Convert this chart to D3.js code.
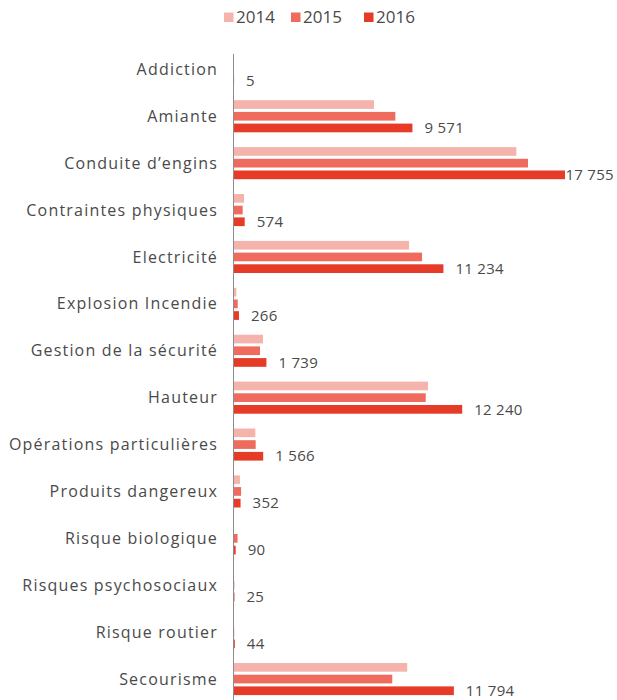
<!DOCTYPE html>
<html>
<head>
<meta charset="utf-8">
<script src="https://cdn.jsdelivr.net/npm/d3@7"></script>
<style>
  body { margin: 0; background: #fff; }
  text { font-family: "Open Sans", sans-serif; fill: #4a4a4a; }
</style>
</head>
<body>
<div id="chart"></div>
<script>
// categories, top to bottom
const categories = ["Addiction", "Amiante", "Conduite d\u2019engins", "Contraintes physiques ",
    "Electricit\u00e9", "Explosion Incendie", "Gestion de la s\u00e9curit\u00e9", "Hauteur",
    "Op\u00e9rations particuli\u00e8res", "Produits dangereux ", "Risque biologique ",
    "Risques psychosociaux", "Risque routier", "Secourisme"];
const years = ["2014", "2015", "2016"];

// values (2016 values are labelled)
const values2014 = [0, 7510, 15145, 536, 9390, 125, 1556, 10408, 1144, 320, 0, 0, 0, 9290];
const values2015 = [0, 8655, 15770, 465, 10086, 200, 1395, 10284, 1162, 380, 190, 15, 10, 8490];
const values2016 = [5, 9571, 17755, 574, 11234, 266, 1739, 12240, 1566, 352, 90, 25, 44, 11794];

const colors = ["#f5b4ab", "#ee6b5d", "#e63b27"];

let width = 617, height = 700;

let svg = d3.select("#chart").append("svg")
    .attr("width", width)
    .attr("height", height);

let data = categories.map((c, i) => ({
    cat: c,
    vals: [values2014[i], values2015[i], values2016[i]]
}));

let axisX = 234;

let x = d3.scaleLinear()
    .domain([0, d3.max(values2016)])
    .range([axisX, 565]);

let y = d3.scaleBand()
    .domain(categories)
    .range([53.3, 53.3 + 14 * 46.9])
    .paddingInner(0);

let yInner = d3.scaleBand()
    .domain(years)
    .range([0, 32.1])
    .paddingInner(0.256);

// bars
let groups = svg.selectAll(".cat")
    .data(data)
    .enter().append("g")
    .attr("class", "cat")
    .attr("transform", d => "translate(0," + y(d.cat) + ")");

groups.selectAll("rect")
    .data(d => d.vals.map((v, j) => ({year: years[j], value: v, idx: j})))
    .enter().append("rect")
    .attr("x", x(0))
    .attr("y", d => yInner(d.year))
    .attr("width", d => x(d.value) - x(0))
    .attr("height", yInner.bandwidth())
    .attr("fill", d => colors[d.idx]);

// category labels (centred on the 2015 bar)
groups.append("text")
    .attr("x", 218)
    .attr("y", yInner("2015") + yInner.bandwidth() / 2)
    .attr("dy", "0.35em")
    .attr("text-anchor", "end")
    .style("font-size", "16px")
    .style("letter-spacing", "1.2px")
    .text(d => d.cat);

// value labels for 2016
let fmt = d3.formatLocale({decimal: ",", thousands: " ", grouping: [3], currency: ["", " \u20ac"]}).format(",d");

groups.append("text")
    .attr("class", "val")
    .attr("y", yInner("2016") + yInner.bandwidth() / 2)
    .attr("dy", "0.35em")
    .style("font-size", "15px")
    .style("letter-spacing", "0.3px")
    .text(d => fmt(d.vals[2]))
    .each(function(d) {
        let w = this.getComputedTextLength();
        let px = x(d.vals[2]) + 12;
        if (px + w > width - 3) px = width - 3 - w;
        d3.select(this).attr("x", px);
    });

// vertical axis line
svg.append("line")
    .attr("x1", axisX - 0.5).attr("x2", axisX - 0.5)
    .attr("y1", 54).attr("y2", height)
    .attr("stroke", "#8c8c8c")
    .attr("stroke-width", 1);

// legend
let legendX = [224, 291, 364];
let legend = svg.selectAll(".legend")
    .data(years)
    .enter().append("g")
    .attr("class", "legend")
    .attr("transform", (d, i) => "translate(" + legendX[i] + ",0)");

legend.append("rect")
    .attr("x", 0).attr("y", 12.5)
    .attr("width", 9.5).attr("height", 9.5)
    .attr("fill", (d, i) => colors[i]);

legend.append("text")
    .attr("x", 12)
    .attr("y", 17.5)
    .attr("dy", "0.35em")
    .style("font-size", "17px")
    .text(d => d);
</script>
</body>
</html>
